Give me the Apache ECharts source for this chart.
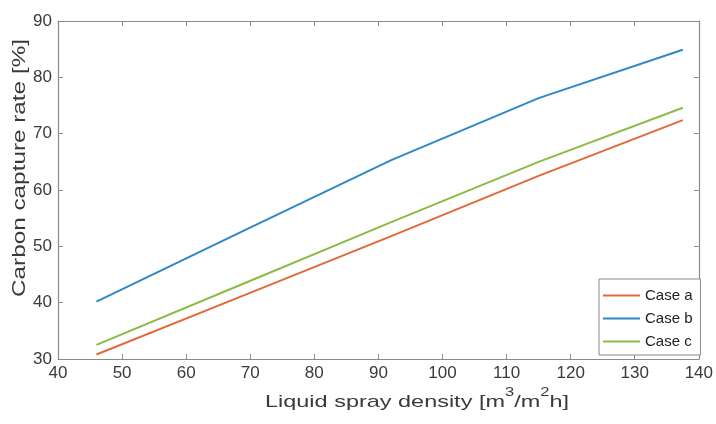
<!DOCTYPE html>
<html>
<head>
<meta charset="utf-8">
<script src="https://cdn.jsdelivr.net/npm/echarts@6/dist/echarts.min.js"></script>
<style>
html,body{margin:0;padding:0;background:#fff;}
#chart{width:716px;height:424px;}
</style>
</head>
<body>
<div id="chart"></div>
<script>
// ---- data ----
var xValues = [46, 69, 92, 115, 137.5];
var caseA = [30.8, 41.3, 51.8, 62.5, 72.4];
var caseB = [40.2, 52.8, 65.3, 76.3, 84.9];
var caseC = [32.5, 43.4, 54.3, 65.0, 74.6];
var seriesNames = ['Case a', 'Case b', 'Case c'];
var xTickLabels = [40, 50, 60, 70, 80, 90, 100, 110, 120, 130, 140];
var yTickLabels = [30, 40, 50, 60, 70, 80, 90];
var xTitle = 'Liquid spray density';
var yTitle = 'Carbon capture rate [%]';

function pairs(ys){ return xValues.map(function(x,i){ return [x, ys[i]]; }); }

var colors = ['#e2693a', '#2f88c6', '#8cbb45'];
var axisColor = '#8a8a8a';
var labelColor = '#3a3a3a';
var font = 'Liberation Sans, Arial, Helvetica, sans-serif';

var chart = echarts.init(document.getElementById('chart'), null, {renderer:'canvas'});

function xAx(pos, show){
  return {
    type:'value', position:pos, min:xTickLabels[0], max:xTickLabels[xTickLabels.length-1], interval:10,
    axisLine:{show:true, onZero:false, lineStyle:{color:axisColor, width:1.2}},
    axisTick:{show:true, inside:true, length:5, lineStyle:{color:axisColor}},
    axisLabel:{show:show, color:labelColor, fontSize:17, fontFamily:font, margin:6},
    splitLine:{show:false}
  };
}
function yAx(pos, show){
  return {
    type:'value', position:pos, min:yTickLabels[0], max:yTickLabels[yTickLabels.length-1], interval:10,
    axisLine:{show:true, onZero:false, lineStyle:{color:axisColor, width:1.2}},
    axisTick:{show:true, inside:true, length:5, lineStyle:{color:axisColor}},
    axisLabel:{show:show, color:labelColor, fontSize:17, fontFamily:font, margin:6},
    splitLine:{show:false}
  };
}

var dataSets = [caseA, caseB, caseC];
var series = dataSets.map(function(d, i){
  return {
    name: seriesNames[i], type:'line', xAxisIndex:0, yAxisIndex:0,
    data: pairs(d), symbol:'none', smooth:false,
    lineStyle:{color:colors[i], width:2},
    itemStyle:{color:colors[i]},
    animation:false
  };
});

chart.setOption({
  animation:false,
  backgroundColor:'#ffffff',
  grid:{left:58, right:15, top:21, bottom:65, containLabel:false},
  xAxis:[xAx('bottom', true), xAx('top', false)],
  yAxis:[yAx('left', true), yAx('right', false)],
  legend:{
    data: seriesNames, orient:'vertical', left:599, top:279,
    icon:'rect', itemWidth:37, itemHeight:2, itemGap:8,
    padding:[9, 8, 6, 4],
    backgroundColor:'#ffffff', borderColor:'#8a8a8a', borderWidth:1,
    textStyle:{color:'#222', fontSize:15, fontFamily:font, lineHeight:15}
  },
  graphic:[
    {
      type:'text', x:417, y:399, scaleX:1.38, scaleY:1,
      style:{
        text:'{a|' + xTitle + ' [m}{s|3}{a|/m}{s|2}{a|h]}',
        align:'center', verticalAlign:'middle',
        rich:{
          a:{fontSize:17, fontFamily:font, fill:labelColor, lineHeight:24, verticalAlign:'bottom'},
          s:{fontSize:12, fontFamily:font, fill:labelColor, lineHeight:24, verticalAlign:'top'}
        }
      }
    },
    {
      type:'text', x:20, y:168, rotation:Math.PI/2, scaleX:1.35, scaleY:1,
      style:{
        text:yTitle, align:'center', verticalAlign:'middle',
        fontSize:18, fontFamily:font, fill:labelColor
      }
    }
  ],
  series: series
});
</script>
</body>
</html>
